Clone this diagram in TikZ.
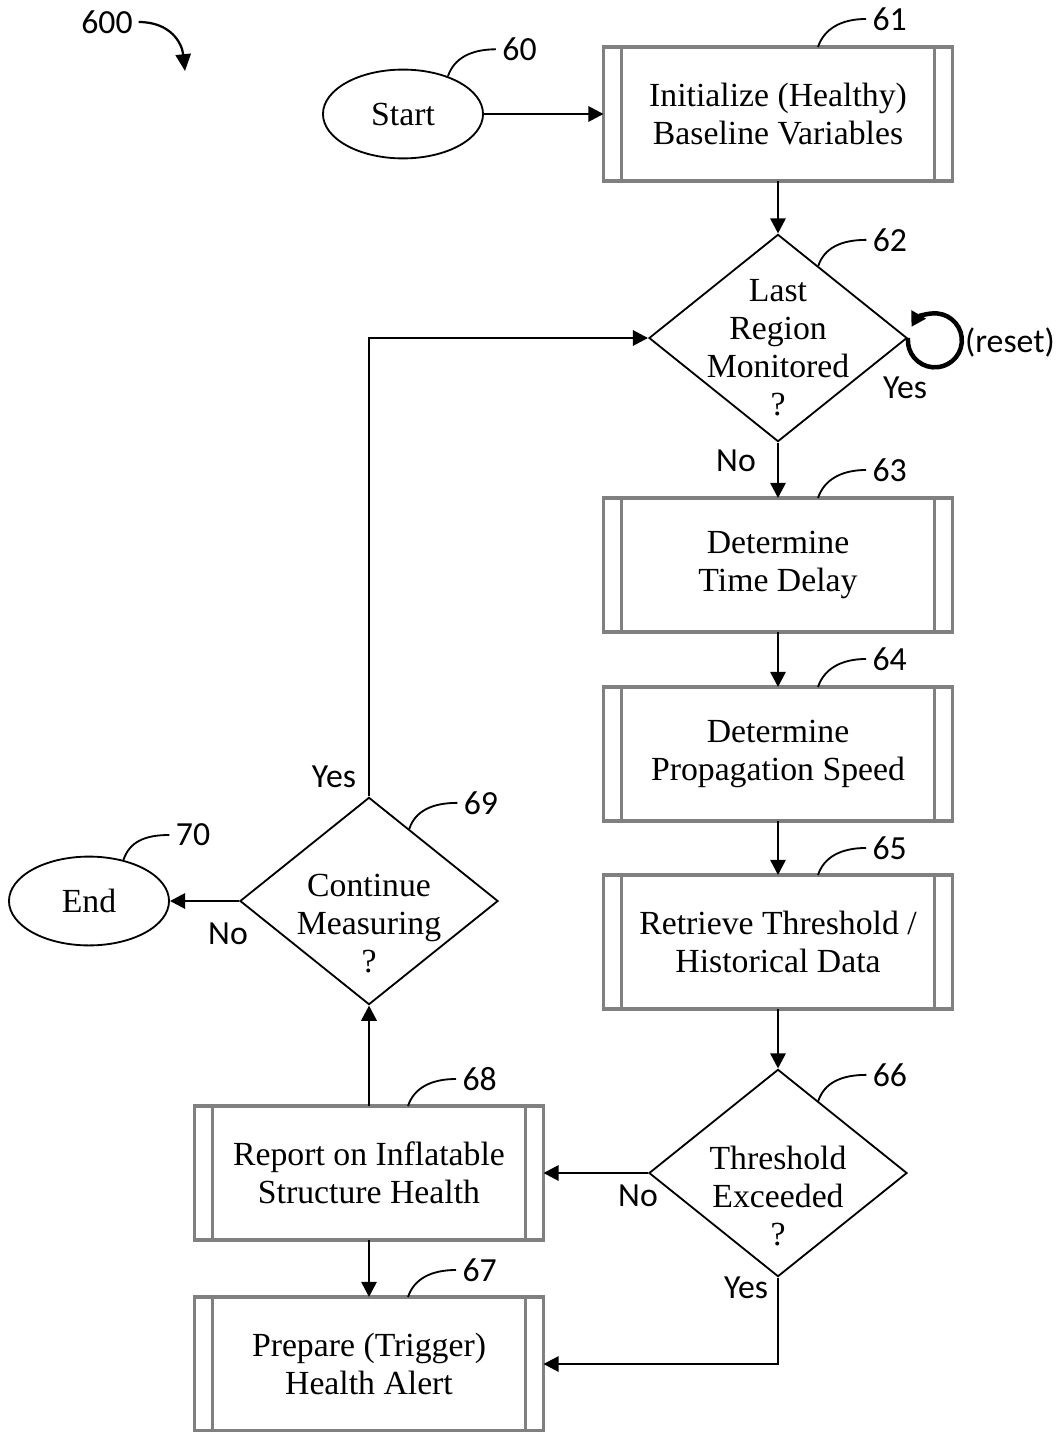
\documentclass[tikz,border=0pt]{standalone}
\usepackage{fontspec}
\setmainfont{Liberation Serif}
\newfontfamily\calib{Carlito}
\usetikzlibrary{shapes.geometric,arrows.meta,calc}
\definecolor{boxgray}{RGB}{128,128,128}
\newcommand{\boxfont}{\fontsize{24}{27}\selectfont}
\newcommand{\numfont}{\calib\fontsize{24}{28}\selectfont}

\begin{document}
\begin{tikzpicture}[x=0.025cm, y=0.025cm,
        proc/.style={draw=boxgray, line width=2.3pt, minimum width=8.72cm, minimum height=3.35cm,
            inner sep=0pt, outer sep=0pt, align=center, font=\boxfont},
        bar/.style={draw=boxgray, line width=2.3pt},
        dec/.style={diamond, draw, line width=1.3pt, inner sep=0pt, minimum width=6.45cm, minimum height=5.18cm},
        dectext/.style={align=center, font=\boxfont},
        term/.style={ellipse, draw, line width=1.3pt, minimum width=4cm, minimum height=2.22cm, font=\boxfont},
        flow/.style={line width=1.9pt, -{Triangle[length=0.38cm, width=0.38cm]}},
        lead/.style={line width=1.3pt},
        refnum/.style={font=\numfont, inner sep=4pt},
        answer/.style={font=\numfont, inner sep=1pt}
    ]
        \useasboundingbox (0,0) rectangle (1062,-1432);
        \def\barw{18}

        % terminals and steps
        \node[term] (start) at (403,-114) {Start};
        \node[proc] (b61) at (778,-114) {Initialize (Healthy)\\Baseline Variables};
        \node[dec] (d62) at (778,-338) {};
        \node[dectext] (t62) at ($(d62)+(0,-10)$) {Last\\Region\\Monitored\\?};
        \node[proc] (b63) at (778,-565) {Determine\\Time Delay};
        \node[proc] (b64) at (778,-754) {Determine\\Propagation Speed};
        \node[proc] (b65) at (778,-942) {Retrieve Threshold /\\Historical Data};
        \node[dec] (d66) at (778,-1173) {};
        \node[dectext] (t66) at ($(d66)+(0,-23)$) {Threshold\\Exceeded\\?};
        \node[proc] (b68) at (369,-1173) {Report on Inflatable\\Structure Health};
        \node[proc] (b67) at (369,-1364) {Prepare (Trigger)\\Health Alert};
        \node[dec] (d69) at (369,-901) {};
        \node[dectext] (t69) at ($(d69)+(0,-23)$) {Continue\\Measuring\\?};
        \node[term] (end) at (89,-901) {End};

        % side bars of the process boxes
        \foreach \n in {b61,b63,b64,b65,b68,b67} {
            \draw[bar] ($(\n.north west)+(\barw,0)$) -- ($(\n.south west)+(\barw,0)$);
            \draw[bar] ($(\n.north east)+(-\barw,0)$) -- ($(\n.south east)+(-\barw,0)$);
        }

        % flow
        \draw[flow] (start.east) -- (b61.west);
        \draw[flow] (b61.south) -- (d62.north);
        \draw[flow] (d62.south) -- (b63.north);
        \draw[flow] (b63.south) -- (b64.north);
        \draw[flow] (b64.south) -- (b65.north);
        \draw[flow] (b65.south) -- (d66.north);
        \draw[flow] (d66.west) -- (b68.east);
        \draw[flow] (d66.south) -- (d66.south |- b67.east) -- (b67.east);
        \draw[flow] (b68.south) -- (b67.north);
        \draw[flow] (b68.north) -- (d69.south);
        \draw[flow] (d69.north) |- (d62.west);
        \draw[flow] (d69.west) -- (end.east);
        \draw[line width=3.2pt, -{Triangle[length=0.36cm, width=0.4cm]}]
            (d62.east) arc[start angle=-185, end angle=150, radius=0.675cm];

        % answers
        \node[answer] (yes62) at (905,-388) {Yes};
        \node[answer] (reset) at (1010,-342) {(reset)};
        \node[answer] (no62) at (736,-461) {No};
        \node[answer] (no66) at (638,-1196) {No};
        \node[answer] (yes66) at (746,-1288) {Yes};
        \node[answer] (yes69) at (334,-777) {Yes};
        \node[answer] (no69) at (228,-934) {No};

        % reference numerals
        \node[refnum] (n600) at (107,-22) {600};
        \coordinate (c600) at (185,-71);
        \draw[line width=1.6pt, -{Triangle[length=0.42cm, width=0.38cm]}]
            (n600.east) .. controls +(32,0) and +(-3,28) .. (c600);
        \draw[lead] (start.40) .. controls +(6,18) and +(-25,0) .. +(48,27) node[refnum,right] {60};
        \draw[lead] ($(b61.north)+(40,0)$) .. controls +(6,18) and +(-25,0) .. +(48,28) node[refnum,right] {61};
        \draw[lead] ($(d62.north)!0.31!(d62.east)$) .. controls +(6,18) and +(-25,0) .. +(48,26) node[refnum,right] {62};
        \draw[lead] ($(b63.north)+(40,0)$) .. controls +(6,18) and +(-25,0) .. +(48,28) node[refnum,right] {63};
        \draw[lead] ($(b64.north)+(40,0)$) .. controls +(6,18) and +(-25,0) .. +(48,28) node[refnum,right] {64};
        \draw[lead] ($(b65.north)+(40,0)$) .. controls +(6,18) and +(-25,0) .. +(48,27) node[refnum,right] {65};
        \draw[lead] ($(d66.north)!0.31!(d66.east)$) .. controls +(6,18) and +(-25,0) .. +(48,26) node[refnum,right] {66};
        \draw[lead] ($(b67.north)+(39,0)$) .. controls +(6,18) and +(-25,0) .. +(48,27) node[refnum,right] {67};
        \draw[lead] ($(b68.north)+(39,0)$) .. controls +(6,18) and +(-25,0) .. +(48,27) node[refnum,right] {68};
        \draw[lead] ($(d69.north)!0.31!(d69.east)$) .. controls +(6,18) and +(-25,0) .. +(48,26) node[refnum,right] {69};
        \draw[lead] (end.50) .. controls +(6,18) and +(-25,0) .. +(46,25) node[refnum,right] {70};
    \end{tikzpicture}
\end{document}
